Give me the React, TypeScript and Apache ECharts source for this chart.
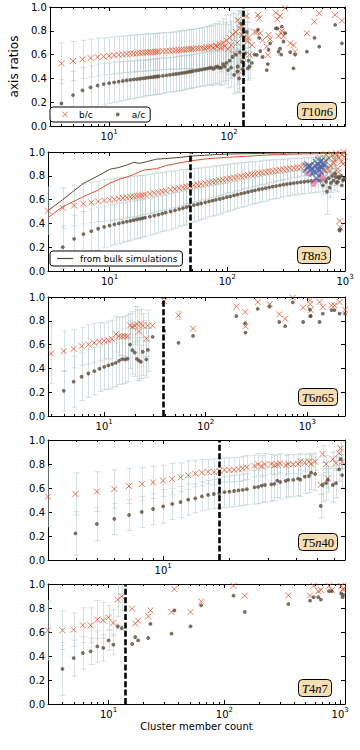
import React, { useEffect, useRef } from 'react';
import * as echarts from 'echarts';

// ---------------- data ----------------
// Panel 1 : T10n6
const P1_N = [3,4,5,6,7,8,9,10,11,12,
  13,14,15,16,17,18,19,20,21,22,
  23,24,25,26,28,30,32,34,36,38,
  40,42,44,46,48,50,53,56,59,62,
  65,68,71,74,77,80,83,86,89,92,
  95,98,101,104,107,110,114,117,118,121,
  123,126,128,130,136,140,143,145,148,155,
  163,170,174,178,182,190,206,210,213,220,
  245,252,258,266,272,275,284,293,323,344,
  355,445,515,564,766,872];
const P1_BC = [0.505,0.527,0.546,0.56,0.571,0.579,0.584,0.589,0.594,0.598,
  0.601,0.604,0.607,0.609,0.612,0.614,0.616,0.617,0.619,0.62,
  0.622,0.623,0.624,0.626,0.628,0.63,0.632,0.634,0.636,0.638,
  0.64,0.641,0.643,0.646,0.645,0.648,0.65,0.652,0.656,0.653,
  0.66,0.662,0.67,0.658,0.675,0.668,0.69,0.655,0.70,0.672,
  0.72,0.645,0.74,0.68,0.77,0.61,0.79,0.70,0.89,0.46,
  0.82,0.85,0.765,0.58,0.75,0.924,0.71,0.74,0.60,0.68,
  0.79,0.79,0.933,0.905,0.78,0.72,0.667,0.597,0.765,0.73,
  0.952,0.896,0.756,0.924,0.78,0.80,0.756,0.99,0.695,0.68,
  0.625,0.78,0.877,0.947,0.933,0.885];
const P1_AC = [null,0.19,0.26,0.30,0.325,0.34,0.352,0.36,0.367,0.373,
  0.378,0.383,0.387,0.391,0.394,0.397,0.40,0.403,0.406,0.409,
  0.411,0.414,0.416,0.418,0.422,0.426,0.43,0.433,0.437,0.44,
  0.444,0.447,0.45,0.455,0.458,0.462,0.466,0.47,0.474,0.478,
  0.482,0.486,0.49,0.48,0.495,0.50,0.488,0.49,0.52,0.50,
  0.53,0.47,0.55,0.49,0.58,0.43,0.60,0.457,0.50,0.40,
  0.62,0.86,0.54,0.48,0.61,0.79,0.485,0.55,0.50,0.53,
  0.60,0.597,0.81,0.74,0.63,0.58,0.47,0.52,0.64,0.695,
  0.82,0.82,0.625,0.65,0.60,0.835,0.71,0.78,0.62,0.485,
  0.60,0.625,0.74,0.667,0.85,0.695];
const P1_BC_ERR = [0.25,0.17,0.165,0.16,0.16,0.16,0.155,0.155,0.155,0.155,
  0.155,0.155,0.155,0.155,0.155,0.155,0.155,0.155,0.155,0.155,
  0.155,0.155,0.155,0.155,0.155,0.155,0.155,0.155,0.155,0.16,
  0.16,0.16,0.16,0.165,0.165,0.165,0.17,0.17,0.17,0.175,
  0.175,0.18,0.18,0.185,0.185,0.19,0.19,0.2,0.2,0.2,
  0.21,0.21,0.2,0.2,0.18,0.2,0.15,0.2,0.08,0.15,
  0.15,0.1,0.12,0.12,0.1,0.05,0.1,0.08,0.1,0,
  0,0,0,0,0,0,0,0,0,0,
  0,0,0,0,0,0,0,0,0,0,
  0,0,0,0,0,0];
const P1_AC_ERR = [0,0.2,0.2,0.19,0.18,0.18,0.175,0.17,0.17,0.165,
  0.165,0.16,0.16,0.16,0.155,0.155,0.155,0.15,0.15,0.15,
  0.15,0.15,0.15,0.15,0.15,0.145,0.145,0.145,0.145,0.145,
  0.145,0.145,0.14,0.14,0.14,0.14,0.14,0.14,0.14,0.14,
  0.14,0.14,0.14,0.14,0.14,0.14,0.14,0.15,0.15,0.15,
  0.15,0.15,0.15,0.16,0.16,0.16,0.17,0.17,0.15,0.12,
  0.15,0.1,0.12,0.1,0.1,0.08,0.1,0.08,0.1,0,
  0,0,0,0,0,0,0,0,0,0,
  0,0,0.03,0,0,0,0,0,0,0,
  0,0,0,0,0,0];

// Panel 2 : T8n3
const P2_N = [3,4,5,6,7,8,9,10,11,12,
  13,14,15,16,17,18,19,20,22,24,
  26,28,30,33,36,39,42,45,48,52,
  56,60,65,70,75,80,86,92,99,106,
  114,122,131,140,150,161,172,185,198,212,
  227,243,260,279,299,320,343,367,393,421,
  451,483,517,554,593,610,635,650,680,690,
  703,728,740,760,780,800,820,835,850,870,
  880,895,900,910,930,940,960,975,990];
const P2_BC = [0.507,0.53,0.55,0.565,0.576,0.585,0.592,0.598,0.603,0.608,
  0.613,0.617,0.622,0.626,0.63,0.634,0.638,0.642,0.649,0.656,
  0.662,0.668,0.674,0.682,0.689,0.696,0.702,0.708,0.714,0.72,
  0.726,0.731,0.738,0.744,0.75,0.755,0.761,0.767,0.773,0.779,
  0.785,0.79,0.796,0.801,0.807,0.812,0.817,0.822,0.827,0.832,
  0.836,0.841,0.845,0.85,0.854,0.858,0.862,0.866,0.87,0.873,
  0.877,0.88,0.884,0.887,0.89,0.95,0.90,0.85,0.93,0.98,
  0.86,0.95,0.84,0.88,0.97,0.91,0.93,0.99,0.97,0.86,
  0.83,0.95,0.42,0.367,0.98,0.92,0.90,1.0,0.96];
const P2_AC = [null,0.20,0.27,0.31,0.335,0.355,0.37,0.382,0.392,0.40,
  0.408,0.415,0.421,0.427,0.433,0.438,0.443,0.448,0.457,0.466,
  0.474,0.482,0.49,0.50,0.51,0.52,0.528,0.537,0.545,0.553,
  0.561,0.568,0.577,0.585,0.592,0.598,0.605,0.612,0.62,0.627,
  0.635,0.642,0.65,0.657,0.664,0.671,0.678,0.685,0.691,0.697,
  0.703,0.709,0.714,0.72,0.725,0.73,0.735,0.739,0.743,0.747,
  0.75,0.754,0.757,0.76,0.763,0.80,0.765,0.72,0.77,0.75,
  0.666,0.78,0.70,0.74,0.80,0.76,0.82,0.79,0.74,0.75,
  0.79,0.78,0.34,0.35,0.80,0.72,0.76,0.77,0.78];
const P2_BC_ERR = [0.2,0.17,0.17,0.17,0.17,0.17,0.175,0.175,0.175,0.175,
  0.175,0.17,0.17,0.17,0.17,0.17,0.165,0.165,0.165,0.165,
  0.16,0.16,0.16,0.155,0.155,0.15,0.15,0.145,0.145,0.14,
  0.14,0.135,0.135,0.13,0.13,0.13,0.125,0.125,0.12,0.12,
  0.12,0.115,0.115,0.11,0.11,0.105,0.105,0.1,0.1,0.1,
  0.095,0.095,0.09,0.09,0.085,0.085,0.08,0.08,0.08,0.075,
  0.075,0.075,0.07,0.07,0.07,0.05,0.07,0.06,0.06,0.05,
  0.06,0.06,0.05,0.05,0.05,0.05,0.04,0.04,0.04,0,
  0,0,0,0,0,0,0,0,0];
const P2_AC_ERR = [0,0.18,0.2,0.19,0.185,0.18,0.175,0.17,0.17,0.17,
  0.165,0.165,0.165,0.16,0.16,0.16,0.16,0.16,0.155,0.155,
  0.155,0.15,0.15,0.15,0.15,0.145,0.145,0.145,0.14,0.14,
  0.14,0.135,0.135,0.13,0.13,0.13,0.125,0.125,0.12,0.12,
  0.12,0.115,0.115,0.115,0.11,0.11,0.11,0.11,0.11,0.11,
  0.105,0.105,0.105,0.105,0.1,0.1,0.1,0.1,0.1,0.1,
  0.1,0.1,0.1,0.1,0.1,0.08,0.1,0.08,0.1,0.08,
  0.19,0.1,0.08,0.08,0.08,0.08,0.07,0.07,0.07,0,
  0,0,0,0,0,0,0,0,0];
const BULK_N = [3,4,6,8,10,12,14,16,18,20,25,30,40,50,70,100,150,220,400,1000];
const BULK_AC = [0.507,0.60,0.737,0.80,0.854,0.87,0.89,0.913,0.905,0.915,0.94,0.945,0.955,0.966,0.975,0.983,0.986,0.99,0.993,0.996];
const BULK_BC = [0.448,0.54,0.625,0.68,0.737,0.77,0.79,0.81,0.835,0.85,0.86,0.885,0.91,0.927,0.945,0.955,0.965,0.975,0.983,0.99];
const OBS_BC_N = [480,500,520,550,570,590,616,640,660,600];
const OBS_BC = [0.87,0.88,0.86,0.835,0.78,0.9,0.918,0.87,0.905,0.85];
const OBS_AC_N = [480,520,540,560,590,620,650];
const OBS_AC = [0.82,0.84,0.73,0.756,0.87,0.83,0.78];

// Panel 3 : T6n65
const P3_N = [3,4,5,6,7,8,9,10,11,12,
  13,14,15,16,17,18,19,20,21,22,
  23,24,26,27,30,39,54,75,200,245,
  246,325,425,530,605,720,910,1060,1070,1080,
  1320,1420,1730,1850,2080,2350];
const P3_BC = [0.525,0.545,0.564,0.587,0.60,0.615,0.623,0.631,0.637,0.645,
  0.687,0.67,0.67,0.67,0.67,0.76,0.75,0.76,0.77,0.71,
  0.776,0.76,0.65,0.76,0.76,0.966,0.846,0.735,0.92,0.874,
  0.754,0.958,0.94,0.855,0.818,0.994,0.91,0.972,0.94,0.89,
  0.958,0.916,0.93,0.93,0.958,0.894];
const P3_AC = [null,0.212,0.288,0.33,0.357,0.377,0.397,0.413,0.425,0.436,
  0.447,0.464,0.478,0.475,0.48,0.60,0.553,0.533,0.48,0.465,
  0.455,0.54,0.475,0.555,0.665,0.715,0.615,0.673,0.84,0.78,
  0.70,0.90,0.92,0.79,0.755,0.955,0.79,0.894,0.84,0.84,
  0.79,0.86,0.89,0.89,0.86,0.86];
const P3_BC_ERR = [0.25,0.17,0.16,0.16,0.165,0.165,0.16,0.15,0.16,0.16,
  0.15,0.16,0.16,0.17,0.18,0.1,0.13,0.16,0.15,0.18,
  0.12,0.1,0.15,0.13,0,0,0.035,0,0,0,
  0,0,0,0,0,0,0,0,0,0,
  0,0,0,0,0,0];
const P3_AC_ERR = [0,0.17,0.215,0.2,0.2,0.2,0.19,0.19,0.2,0.2,
  0.2,0.2,0.21,0.2,0.19,0.2,0.2,0.2,0.18,0.17,
  0.14,0.2,0.15,0.18,0,0,0,0,0,0,
  0,0,0,0,0,0,0,0,0,0,
  0,0,0,0,0,0];

// Panel 4 : T5n40
const P4_N = [3,4,5,6,7,8,9,10,11,12,
  13,14,15,16,17,18,19,20,21,22,
  23,24,26,27,28,29,31,32,33,34,
  36,37,39,41,42,44,46,47,49,52,
  53,55,56,59,61,63,64,65];
const P4_BC = [0.528,0.55,0.57,0.592,0.617,0.633,0.647,0.661,0.675,0.689,
  0.706,0.72,0.728,0.736,0.733,0.744,0.75,0.75,0.752,0.756,
  0.764,0.772,0.783,0.797,0.783,0.797,0.80,0.79,0.797,0.806,
  0.79,0.80,0.797,0.80,0.82,0.81,0.82,0.80,0.82,0.625,
  0.883,0.80,0.68,0.84,0.806,0.89,0.93,0.82];
const P4_AC = [null,0.222,0.30,0.342,0.375,0.40,0.425,0.447,0.467,0.483,
  0.503,0.514,0.53,0.542,0.55,0.556,0.565,0.57,0.575,0.58,
  0.585,0.59,0.606,0.61,0.62,0.625,0.63,0.635,0.661,0.65,
  0.66,0.667,0.667,0.678,0.67,0.694,0.70,0.728,0.717,0.45,
  0.625,0.64,0.667,0.625,0.64,0.755,0.84,0.708];
const P4_BC_ERR = [0.25,0.175,0.165,0.16,0.145,0.14,0.135,0.13,0.13,0.12,
  0.12,0.11,0.11,0.1,0.11,0.1,0.1,0.1,0.1,0.1,
  0.1,0.1,0.09,0.09,0.09,0.09,0.08,0.08,0.08,0.08,
  0.08,0.08,0.08,0.08,0.07,0.07,0.07,0.08,0.07,0.08,
  0.07,0.07,0.08,0.06,0.06,0.06,0.05,0.06];
const P4_AC_ERR = [0,0.18,0.14,0.13,0.13,0.13,0.13,0.14,0.13,0.13,
  0.13,0.12,0.12,0.12,0.12,0.12,0.13,0.13,0.13,0.13,
  0.13,0.13,0.14,0.14,0.14,0.14,0.14,0.14,0.14,0.14,
  0.14,0.14,0.14,0.14,0.14,0.14,0.14,0.14,0.14,0.1,
  0.14,0.14,0.1,0.14,0.12,0.1,0.08,0.1];

// Panel 5 : T4n7
const P5_N = [3,4,5,6,7,8,9,10,11,12,
  13,16,17,18,22,23,35,37,51,63,
  120,150,357,549,590,647,680,800,845,1020,
  1050,1060];
const P5_BC = [0.614,0.614,0.62,0.656,0.656,0.703,0.697,0.722,0.675,0.87,
  0.897,0.794,0.67,0.694,0.73,0.78,0.767,0.958,0.767,0.855,
  0.985,0.903,0.906,0.903,0.985,0.94,0.95,0.985,0.95,0.985,
  0.95,0.96];
const P5_AC = [null,0.292,0.383,0.425,0.439,0.48,0.467,0.53,0.494,0.647,
  0.633,0.50,0.558,0.53,0.55,0.667,0.586,0.78,0.647,0.822,
  0.903,0.767,0.833,0.861,0.89,0.89,0.87,0.94,0.94,0.92,
  0.89,0.91];
const P5_BC_ERR = [0.25,0.16,0.14,0.145,0.145,0.16,0.15,0.1,0.11,0.14,
  0.12,0,0,0,0,0,0,0,0,0,
  0,0,0,0,0,0,0,0,0,0,
  0,0];
const P5_AC_ERR = [0,0.22,0.15,0.135,0.11,0.13,0.11,0.08,0.085,0.02,
  0.02,0,0,0,0,0,0,0,0,0,
  0,0,0,0,0,0,0,0,0,0,
  0,0];

// resolution limits (dashed lines)
const CUTS = [130, 48, 38, 18, 14];
// x-axis ranges
const X_MIN = [3.2, 3, 2.8, 3, 3];
const X_MAX = [925, 1000, 2350, 67, 1100];
// panel tags: [italic, roman, italic, roman]
const TAGS = [['T', '10', 'n', '6'], ['T', '8', 'n', '3'], ['T', '6', 'n', '65'], ['T', '5', 'n', '40'], ['T', '4', 'n', '7']];
const MINOR_TICKS = [3, 4, 5, 6, 7, 8, 9, 20, 30, 40, 50, 60, 70, 80, 90, 200, 300, 400, 500, 600, 700, 800, 900, 2000];

// ---------------- style ----------------
const BC_COLOR = '#e0572f';
const AC_COLOR = '#5b4a3a';
const BULK_AC_COLOR = '#5a4636';
const BULK_BC_COLOR = '#d9532b';
const OBS_BC_COLOR = '#3d6cae';
const OBS_AC_COLOR = '#ee80b0';
const ERR_COLOR = 'rgba(178,200,202,0.55)';
const FONT = 'DejaVu Sans';
const X_SYMBOL = 'path://M0,0L10,10M10,0L0,10';
const X_ICON = 'path://M0,1L1,0L5,4L9,0L10,1L6,5L10,9L9,10L5,6L1,10L0,9L4,5Z';
const DOT_ICON = 'path://M0,0M10,10M1.8,5A3.2,3.2,0,1,1,8.2,5A3.2,3.2,0,1,1,1.8,5Z';

const LAYOUT = [
  { top: 7, height: 119, tagLeft: 297, tagTop: 102 },
  { top: 152, height: 119, tagLeft: 297, tagTop: 246 },
  { top: 297, height: 119, tagLeft: 298, tagTop: 388 },
  { top: 440, height: 120, tagLeft: 298, tagTop: 533 },
  { top: 584, height: 120, tagLeft: 298, tagTop: 679 },
];

const PANELS = [
  { n: P1_N, bc: P1_BC, ac: P1_AC, bcErr: P1_BC_ERR, acErr: P1_AC_ERR },
  { n: P2_N, bc: P2_BC, ac: P2_AC, bcErr: P2_BC_ERR, acErr: P2_AC_ERR },
  { n: P3_N, bc: P3_BC, ac: P3_AC, bcErr: P3_BC_ERR, acErr: P3_AC_ERR },
  { n: P4_N, bc: P4_BC, ac: P4_AC, bcErr: P4_BC_ERR, acErr: P4_AC_ERR },
  { n: P5_N, bc: P5_BC, ac: P5_AC, bcErr: P5_BC_ERR, acErr: P5_AC_ERR },
];

function powLabel(v: number) {
  const l = Math.log10(v);
  const r = Math.round(l);
  if (Math.abs(l - r) < 1e-6) return '{b|10}{s|' + r + '}';
  return '';
}

function errorBarRender(params: any, api: any) {
  const x = api.value(0);
  const lo = api.value(1);
  const hi = api.value(2);
  const a = api.coord([x, lo]);
  const b = api.coord([x, hi]);
  const st = { stroke: ERR_COLOR, lineWidth: 1 };
  const px = Math.round(a[0]) + 0.5;
  return {
    type: 'group',
    children: [
      { type: 'line', shape: { x1: px, y1: a[1], x2: px, y2: b[1] }, style: st },
      { type: 'line', shape: { x1: px - 3, y1: a[1], x2: px + 3, y2: a[1] }, style: st },
      { type: 'line', shape: { x1: px - 3, y1: b[1], x2: px + 3, y2: b[1] }, style: st },
    ],
  };
}

function minorTickRender(params: any, api: any) {
  const v = api.value(0);
  const b = api.coord([v, 0]);
  const t = api.coord([v, 1]);
  const x = Math.round(b[0]) + 0.5;
  const st = { stroke: '#000', lineWidth: 1 };
  return {
    type: 'group',
    children: [
      { type: 'line', shape: { x1: x, y1: b[1], x2: x, y2: b[1] - 2 }, style: st },
      { type: 'line', shape: { x1: x, y1: t[1], x2: x, y2: t[1] + 2 }, style: st },
    ],
  };
}

function buildOption() {
  const grid: any[] = [];
  const xAxis: any[] = [];
  const yAxis: any[] = [];
  const series: any[] = [];
  const title: any[] = [];

  const axisLine = { show: true, onZero: false, lineStyle: { color: '#000', width: 1 } };
  const axisTick = { show: true, inside: true, length: 4, lineStyle: { color: '#000', width: 1 } };

  PANELS.forEach((p, i) => {
    const L = LAYOUT[i];
    grid.push({ left: 48, top: L.top, width: 297, height: L.height });
    const xBase = {
      type: 'log', logBase: 10, gridIndex: i, min: X_MIN[i], max: X_MAX[i],
      axisLine, axisTick, splitLine: { show: false }, minorTick: { show: false },
    };
    xAxis.push({
      ...xBase, position: 'bottom',
      axisLabel: {
        margin: 2, formatter: powLabel, color: '#000',
        rich: {
          b: { fontSize: 10, fontFamily: FONT, color: '#000' },
          s: { fontSize: 7, fontFamily: FONT, color: '#000', padding: [0, 0, 9, 0] },
        },
      },
      name: i === 4 ? 'Cluster member count' : '',
      nameLocation: 'middle', nameGap: 17,
      nameTextStyle: { fontSize: 10, fontFamily: FONT, color: '#000' },
    });
    xAxis.push({ ...xBase, position: 'top', axisLabel: { show: false } });
    const yBase = {
      type: 'value', gridIndex: i, min: 0, max: 1, interval: 0.2,
      axisLine, axisTick, splitLine: { show: false },
    };
    yAxis.push({
      ...yBase, position: 'left',
      axisLabel: { margin: 3, color: '#000', fontSize: 10, fontFamily: FONT, formatter: (v: number) => v.toFixed(1) },
      name: i === 0 ? 'axis ratios' : '',
      nameLocation: 'middle', nameGap: 24, nameRotate: 90,
      nameTextStyle: { fontSize: 12, fontFamily: FONT, color: '#000' },
    });
    yAxis.push({ ...yBase, position: 'right', axisLabel: { show: false } });

    const xi = 2 * i;
    const yi = 2 * i;

    const errData: number[][] = [];
    p.n.forEach((n, k) => {
      if (p.bcErr[k] > 0) errData.push([n, p.bc[k] - p.bcErr[k], p.bc[k] + p.bcErr[k]]);
      const ac = p.ac[k];
      if (ac != null && p.acErr[k] > 0) errData.push([n, ac - p.acErr[k], ac + p.acErr[k]]);
    });
    series.push({
      type: 'custom', name: 'err' + i, xAxisIndex: xi, yAxisIndex: yi, z: 1, silent: true, clip: true,
      renderItem: errorBarRender, encode: { x: 0, y: [1, 2] }, data: errData,
    });

    if (i === 1) {
      series.push({
        type: 'line', name: 'from bulk simulations', xAxisIndex: xi, yAxisIndex: yi, z: 2, silent: true,
        showSymbol: false, symbol: 'none', lineStyle: { color: BULK_AC_COLOR, width: 1 }, itemStyle: { color: BULK_AC_COLOR },
        data: BULK_N.map((n, k) => [n, BULK_AC[k]]),
      });
      series.push({
        type: 'line', name: 'bulk b/c', xAxisIndex: xi, yAxisIndex: yi, z: 2, silent: true,
        showSymbol: false, symbol: 'none', lineStyle: { color: BULK_BC_COLOR, width: 1 }, itemStyle: { color: BULK_BC_COLOR },
        data: BULK_N.map((n, k) => [n, BULK_BC[k]]),
      });
    }

    series.push({
      type: 'scatter', name: 'b/c', xAxisIndex: xi, yAxisIndex: yi, z: 3, silent: true,
      symbol: X_SYMBOL, symbolSize: 6, symbolKeepAspect: true,
      itemStyle: { color: 'transparent', borderColor: BC_COLOR, borderWidth: 1 },
      data: p.n.map((n, k) => [n, p.bc[k]]),
    });
    const acData: number[][] = [];
    p.n.forEach((n, k) => { const v = p.ac[k]; if (v != null) acData.push([n, v]); });
    series.push({
      type: 'scatter', name: 'a/c', xAxisIndex: xi, yAxisIndex: yi, z: 4, silent: true,
      symbol: 'circle', symbolSize: 3.8, itemStyle: { color: AC_COLOR },
      data: acData,
      markLine: {
        silent: true, symbol: ['none', 'none'], label: { show: false },
        lineStyle: { color: '#000', width: 2.6, type: [6, 2.4] },
        emphasis: { disabled: true },
        data: [{ xAxis: CUTS[i] }],
      },
    });

    if (i === 1) {
      series.push({
        type: 'scatter', name: 'obs a/c', xAxisIndex: xi, yAxisIndex: yi, z: 5, silent: true,
        symbol: 'circle', symbolSize: 6, itemStyle: { color: OBS_AC_COLOR },
        data: OBS_AC_N.map((n, k) => [n, OBS_AC[k]]),
      });
      series.push({
        type: 'scatter', name: 'obs b/c', xAxisIndex: xi, yAxisIndex: yi, z: 6, silent: true,
        symbol: X_SYMBOL, symbolSize: 10, symbolKeepAspect: true,
        itemStyle: { color: 'transparent', borderColor: OBS_BC_COLOR, borderWidth: 1.5 },
        data: OBS_BC_N.map((n, k) => [n, OBS_BC[k]]),
      });
    }

    series.push({
      type: 'custom', name: 'minor' + i, xAxisIndex: xi, yAxisIndex: yi, z: 10, silent: true,
      renderItem: minorTickRender, encode: { x: 0, y: 1 },
      data: MINOR_TICKS.filter((v) => v > X_MIN[i] && v < X_MAX[i]).map((v) => [v, 0]),
    });

    const t = TAGS[i];
    const tagFont = { fontFamily: 'Liberation Serif', fontSize: 12.5, fontWeight: 'normal', color: '#000' };
    title.push({
      text: '{i|' + t[0] + '}{r|' + t[1] + '}{i|' + t[2] + '}{r|' + t[3] + '}',
      left: L.tagLeft, top: L.tagTop,
      padding: [3, 4, 2, 4],
      backgroundColor: '#f5deb3', borderColor: '#000', borderWidth: 1, borderRadius: 4,
      textStyle: {
        fontWeight: 'normal', fontSize: 12.5, fontFamily: 'Liberation Serif',
        rich: {
          i: { ...tagFont, fontStyle: 'italic' },
          r: { ...tagFont },
        },
      },
    });
  });

  const labelPad = (name: string) => '{t|' + name + '}';
  const legend = [
    {
      left: 50, top: 107, orient: 'horizontal', selectedMode: false,
      data: [
        { name: 'b/c', icon: X_ICON, itemStyle: { color: BC_COLOR, borderWidth: 0 } },
        { name: 'a/c', icon: DOT_ICON, itemStyle: { color: AC_COLOR, borderWidth: 0 } },
      ],
      itemWidth: 6, itemHeight: 6, itemGap: 22,
      padding: [3, 5, 3, 12],
      formatter: labelPad,
      backgroundColor: '#fff', borderColor: '#000', borderWidth: 1, borderRadius: 3,
      textStyle: { fontSize: 9, fontFamily: FONT, color: '#000', rich: { t: { fontSize: 9, fontFamily: FONT, color: '#000', padding: [0, 0, 0, 6] } } },
    },
    {
      left: 50, top: 251, orient: 'horizontal', selectedMode: false,
      data: [{ name: 'from bulk simulations', icon: 'rect', itemStyle: { color: BULK_AC_COLOR, borderWidth: 0 } }],
      itemWidth: 16, itemHeight: 1.2, itemGap: 10,
      padding: [3, 5, 3, 7],
      formatter: labelPad,
      backgroundColor: '#fff', borderColor: '#000', borderWidth: 1, borderRadius: 3,
      textStyle: { fontSize: 9, fontFamily: FONT, color: '#000', rich: { t: { fontSize: 9, fontFamily: FONT, color: '#000', padding: [0, 0, 0, 2] } } },
    },
  ];

  return { animation: false, backgroundColor: '#fff', grid, xAxis, yAxis, series, title, legend };
}

export default function App() {
  const ref = useRef<HTMLDivElement>(null);
  useEffect(() => {
    if (!ref.current) return;
    const chart = echarts.init(ref.current, null, { renderer: 'svg' });
    chart.setOption(buildOption() as any);
    return () => chart.dispose();
  }, []);
  return <div ref={ref} style={{ position: 'absolute', left: 0, top: 0, width: 360, height: 750 }} />;
}
